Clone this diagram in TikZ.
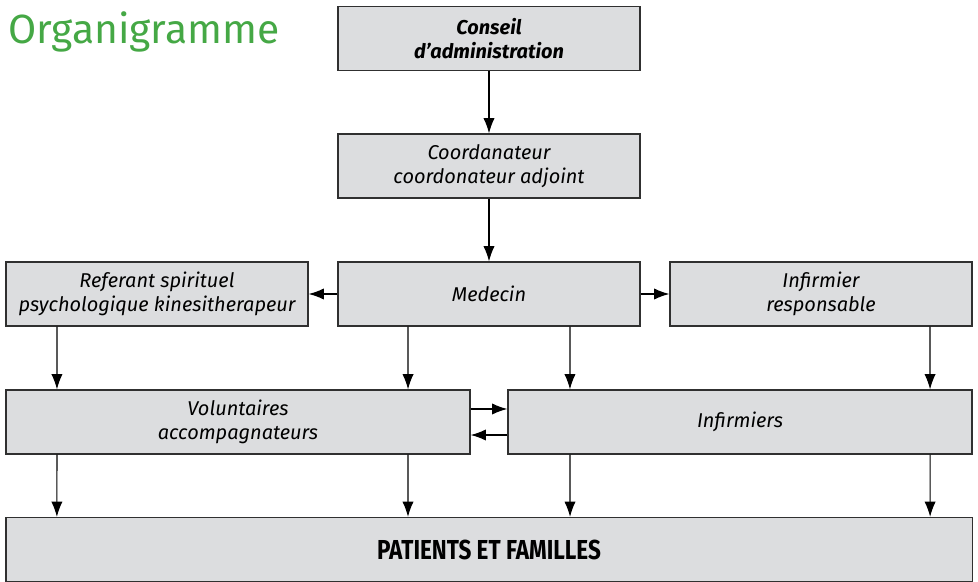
\documentclass[tikz,border=0pt]{standalone}
\usepackage{fontspec}
\setmainfont{Fira Sans}
\newfontfamily\titlefont{Fira Sans}
\newfontfamily\condfont[FakeStretch=0.82]{Fira Sans}
\usetikzlibrary{arrows.meta}
\definecolor{boxgray}{HTML}{DCDDDF}
\definecolor{linegray}{HTML}{303030}
\definecolor{handgreen}{HTML}{45A845}
\tikzset{%
	>={Latex[width=2.8mm,length=3.8mm]},
	% Styles des cases de l'organigramme
	base/.style = {rectangle, draw=linegray, line width=0.9pt, fill=boxgray,
		minimum width=7.55cm, minimum height=1.6cm, inner sep=0pt,
		text centered, align=center, font=\fontsize{14.2}{17}\selectfont\itshape},
	direction/.style = {base, font=\fontsize{14.2}{17}\selectfont\bfseries\itshape},
	equipe/.style = {base, minimum width=11.6cm},
	public/.style = {base, minimum width=24.15cm, font=\fontsize{19.5}{22}\selectfont\condfont\bfseries},
	lien/.style = {->, line width=0.8pt, draw=black},
}

\begin{document}
\begin{tikzpicture}[x=0.025cm, y=-0.025cm]
		\useasboundingbox (0,0) rectangle (978,582);
		% Titre
		\node (titre) [anchor=base west, text=handgreen, inner sep=0pt,
			font=\fontsize{29}{32}\selectfont\titlefont] at (8,44) {Organigramme};
		% Cases (position, etc.)
		\node (conseil)    [direction] at (489,38.5) {Conseil\\ d'administration};
		\node (coord)      [base]      at (489,166)  {Coordanateur\\ coordonateur adjoint};
		\node (medecin)    [base]      at (489,294)  {Medecin};
		\node (referant)   [base]      at (157,294)  {Referant spirituel\\ psychologique kinesitherapeur};
		\node (infresp)    [base]      at (821,294)  {Infirmier\\ responsable};
		\node (volont)     [equipe]    at (238,422)  {Voluntaires\\ accompagnateurs};
		\node (infirmiers) [equipe]    at (740,422)  {Infirmiers};
		\node (patients)   [public]    at (489,549.5) {PATIENTS ET FAMILLES};
		% Liens
		\draw[lien] (conseil) -- (coord);
		\draw[lien] (coord) -- (medecin);
		\draw[lien] (medecin) -- (referant);
		\draw[lien] (medecin) -- (infresp);
		\draw[lien] ([xshift=-2.5cm]referant.south) -- ([xshift=-4.525cm]volont.north);
		\draw[lien] ([xshift=-2.025cm]medecin.south) -- ([xshift=4.25cm]volont.north);
		\draw[lien] ([xshift=2.025cm]medecin.south) -- ([xshift=-4.25cm]infirmiers.north);
		\draw[lien] ([xshift=2.725cm]infresp.south) -- ([xshift=4.75cm]infirmiers.north);
		\draw[lien] ([yshift=0.325cm]volont.east) -- ([yshift=0.325cm]infirmiers.west);
		\draw[lien] ([yshift=-0.325cm]infirmiers.west) -- ([yshift=-0.325cm]volont.east);
		\draw[lien] ([xshift=-4.525cm]volont.south) -- ([xshift=-10.8cm]patients.north);
		\draw[lien] ([xshift=4.25cm]volont.south) -- ([xshift=-2.025cm]patients.north);
		\draw[lien] ([xshift=-4.25cm]infirmiers.south) -- ([xshift=2.025cm]patients.north);
		\draw[lien] ([xshift=4.75cm]infirmiers.south) -- ([xshift=11.025cm]patients.north);
	\end{tikzpicture}
\end{document}
